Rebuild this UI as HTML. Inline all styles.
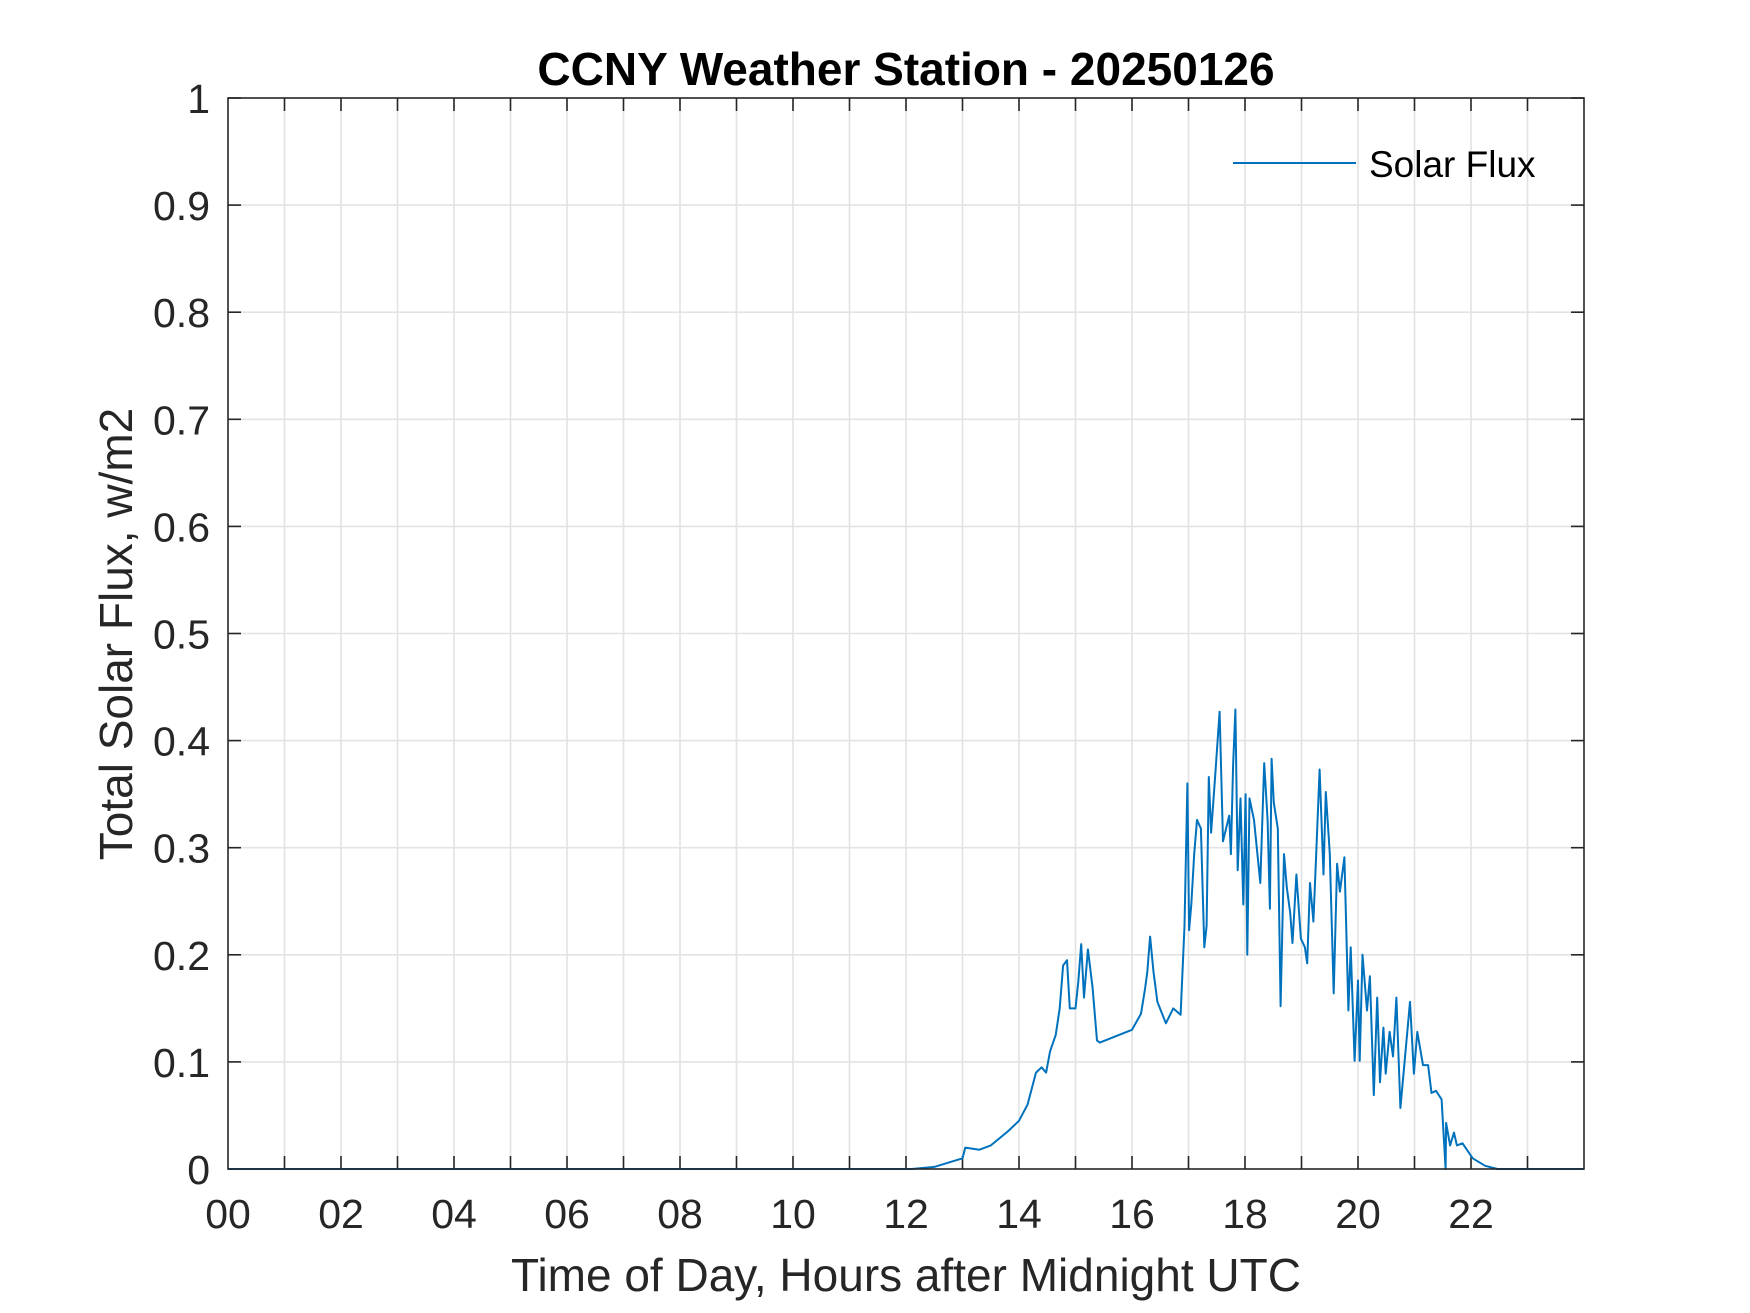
<!DOCTYPE html>
<html><head><meta charset="utf-8"><style>
html,body{margin:0;padding:0;background:#fff;}
svg{display:block;font-family:"Liberation Sans",Arial,sans-serif;}
</style></head><body>
<svg id="chart" width="1750" height="1313" viewBox="0 0 1750 1313">
<rect x="0" y="0" width="1750" height="1313" fill="#fff"/>
<g id="grid"></g>
<g id="ticks"></g>
<path id="series" fill="none" stroke="#0072BD" stroke-width="2" stroke-linejoin="round"/>
<rect x="228" y="98" width="1356" height="1071" fill="none" stroke="#262626" stroke-width="1.6"/>
<text x="906" y="85" text-anchor="middle" font-size="46" font-weight="bold" fill="#000">CCNY Weather Station - 20250126</text>
<text x="906" y="1291" text-anchor="middle" font-size="46" fill="#262626">Time of Day, Hours after Midnight UTC</text>
<text transform="translate(132,634) rotate(-90)" text-anchor="middle" font-size="46" fill="#262626">Total Solar Flux, w/m2</text>
<g>
<line x1="1233" y1="163" x2="1356" y2="163" stroke="#0072BD" stroke-width="2"/>
<text x="1369" y="177" font-size="37" fill="#000">Solar Flux</text>
</g>
</svg>
<script>
const hours = [0,12.1,12.5,13.0,13.05,13.3,13.5,13.8,14.0,14.15,14.3,14.4,14.48,14.55,14.65,14.72,14.78,14.85,14.9,15.0,15.05,15.1,15.15,15.22,15.3,15.38,15.43,
16.0,16.16,16.23,16.27,16.32,16.38,16.45,16.6,16.73,16.86,16.93,16.98,17.01,17.05,17.1,17.15,17.22,17.28,17.32,17.36,17.4,17.47,17.55,17.61,17.72,17.75,17.79,17.83,17.87,17.92,17.97,18.01,18.04,18.08,18.16,18.27,18.34,18.4,18.44,18.47,18.51,18.58,18.63,18.69,18.74,18.8,18.84,18.91,18.99,19.06,19.1,19.15,19.21,19.26,19.32,19.39,19.43,19.5,19.57,19.63,19.68,19.76,19.83,19.87,19.94,20.0,20.03,20.08,20.16,20.21,20.28,20.34,20.39,20.45,20.49,20.56,20.62,20.68,20.75,20.82,20.92,20.99,21.05,21.15,21.24,21.3,21.38,21.48,21.55,21.56,21.63,21.7,21.75,21.85,22.03,22.25,22.47,24];
const flux = [0,0,0.002,0.01,0.02,0.018,0.022,0.035,0.045,0.06,0.09,0.095,0.09,0.11,0.125,0.15,0.19,0.195,0.15,0.15,0.175,0.21,0.16,0.205,0.17,0.12,0.118,
0.13,0.145,0.168,0.184,0.217,0.184,0.156,0.136,0.15,0.144,0.227,0.36,0.223,0.247,0.294,0.326,0.318,0.207,0.227,0.366,0.314,0.366,0.427,0.306,0.33,0.294,0.377,0.429,0.279,0.346,0.247,0.35,0.2,0.346,0.326,0.267,0.379,0.326,0.243,0.383,0.342,0.318,0.152,0.294,0.263,0.239,0.211,0.275,0.215,0.207,0.192,0.267,0.231,0.294,0.373,0.275,0.352,0.294,0.164,0.285,0.259,0.291,0.148,0.207,0.101,0.176,0.101,0.2,0.148,0.18,0.069,0.16,0.081,0.132,0.089,0.128,0.105,0.16,0.057,0.097,0.156,0.089,0.128,0.097,0.097,0.071,0.073,0.065,0,0.043,0.022,0.034,0.022,0.024,0.01,0.003,0,0];
const xTickLabels = ["00","02","04","06","08","10","12","14","16","18","20","22"];
const yTickLabels = ["0","0.1","0.2","0.3","0.4","0.5","0.6","0.7","0.8","0.9","1"];

const L=228,R=1584,T=98,B=1169;
function xs(h){return L+(h/24)*(R-L);}
function ys(v){return B-v*(B-T);}
const NS="http://www.w3.org/2000/svg";
const grid=document.getElementById('grid'), ticks=document.getElementById('ticks');
function mk(tag,attrs,parent){const e=document.createElementNS(NS,tag);for(const k in attrs)e.setAttribute(k,attrs[k]);parent.appendChild(e);return e;}
for(let h=1;h<24;h++){
  const x=xs(h);
  const g=mk('line',{x1:x,y1:T,x2:x,y2:B,stroke:'#e3e3e3','stroke-width':1.6},grid);
  
  
  const t1=mk('line',{x1:x,y1:B,x2:x,y2:B-13,stroke:'#262626','stroke-width':1.6},ticks);
  
  
  const t2=mk('line',{x1:x,y1:T,x2:x,y2:T+13,stroke:'#262626','stroke-width':1.6},ticks);
  
  
}
xTickLabels.forEach((lab,i)=>{
  const t=mk('text',{x:xs(i*2),y:1228,'text-anchor':'middle','font-size':41,fill:'#262626'},ticks);
  t.textContent=lab;
  
  
});
yTickLabels.forEach((lab,i)=>{
  const v=i/10, y=ys(v);
  if(i>0&&i<10){
    const g=mk('line',{x1:L,y1:y,x2:R,y2:y,stroke:'#e3e3e3','stroke-width':1.6},grid);
    
    
  }
  const t1=mk('line',{x1:L,y1:y,x2:L+13,y2:y,stroke:'#262626','stroke-width':1.6},ticks);
  
  
  const t2=mk('line',{x1:R,y1:y,x2:R-13,y2:y,stroke:'#262626','stroke-width':1.6},ticks);
  
  
  const t=mk('text',{x:210,y:y+15,'text-anchor':'end','font-size':41,fill:'#262626'},ticks);
  t.textContent=lab;
  
  
});
let d='';
hours.forEach((h,i)=>{d+=(i?'L':'M')+xs(h).toFixed(1)+','+ys(flux[i]).toFixed(1);});
document.getElementById('series').setAttribute('d',d);
</script>
</body></html>
